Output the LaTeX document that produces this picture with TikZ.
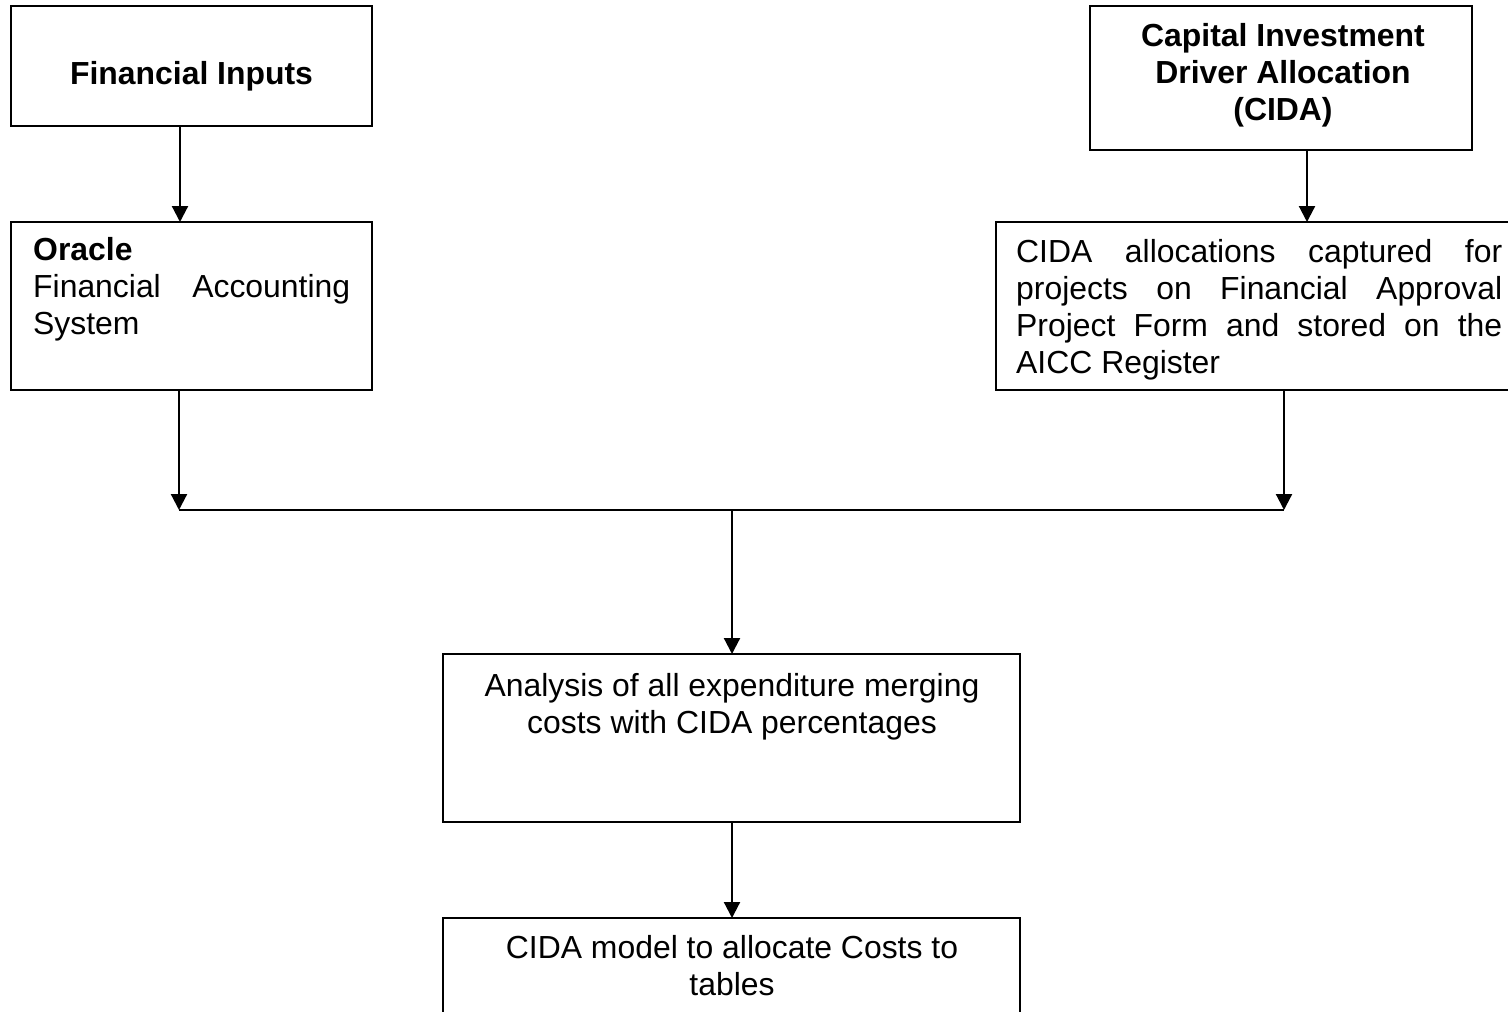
\documentclass[tikz,border=0pt]{standalone}
\usepackage{fontspec}
\setmainfont{Liberation Sans}
\usetikzlibrary{arrows.meta}
\newcommand\myfs{\fontsize{31.9}{37}\selectfont}
\newcommand\cstack[1]{\vtop{\halign{\hfil##\hfil\cr#1\crcr}}}
\begin{document}
\begin{tikzpicture}[x=1pt,y=-1pt,
  box/.style={draw=black, line width=2.2pt, anchor=north west, inner sep=0pt, outer sep=0pt},
  arr/.style={line width=2.2pt, -{Triangle[width=16pt,length=16pt]}},
  conn/.style={line width=2.2pt},
  ltxt/.style={anchor=base west, inner sep=0pt, font=\myfs},
  ctxt/.style={anchor=base, inner sep=0pt, font=\myfs}]
\useasboundingbox (0,0) rectangle (1508,1012);
\clip (0,0) rectangle (1508,1012);
% boxes
\node[box, minimum width=361pt, minimum height=120pt] (fin) at (11,6) {};
\node[box, minimum width=361pt, minimum height=168pt] (ora) at (11,222) {};
\node[box, minimum width=382pt, minimum height=144pt] (cida) at (1090,6) {};
\node[box, minimum width=528pt, minimum height=168pt] (reg) at (996,222) {};
\node[box, minimum width=577pt, minimum height=168pt] (anal) at (443,654) {};
\node[box, minimum width=577pt, minimum height=122pt] (model) at (443,918) {};
% texts
\node[ctxt] (tfin) at (191.5,84) {\textbf{Financial Inputs}};
\node[ltxt] (tora) at (33,260) {\vtop{\hbox{\textbf{Oracle}}\hbox to 317pt{Financial\hfill Accounting}\hbox{System}}};
\node[ctxt] (tcida) at (1283,46) {\bfseries\cstack{Capital Investment\cr Driver Allocation\cr (CIDA)}};
\node[ltxt] (treg) at (1016,262) {\vtop{\hbox to 486pt{CIDA\hfill allocations\hfill captured\hfill for}\hbox to 486pt{projects\hfill on\hfill Financial\hfill Approval}\hbox to 486pt{Project\hfill Form\hfill and\hfill stored\hfill on\hfill the}\hbox{AICC Register}}};
\node[ctxt] (tanal) at (732,696) {\cstack{Analysis of all expenditure merging\cr costs with CIDA percentages}};
\node[ctxt] (tmodel) at (732,958) {\cstack{CIDA model to allocate Costs to\cr tables}};
% connector points
\coordinate (xa) at (180,0);
\coordinate (xb) at (1307,0);
\coordinate (jl) at (179,510);
\coordinate (jr) at (1284,510);
\coordinate (jm) at (732,510);
% connectors
\draw[arr] (fin.south -| xa) -- (ora.north -| xa);
\draw[arr] (cida.south -| xb) -- (reg.north -| xb);
\draw[arr] (ora.south -| jl) -- (jl);
\draw[arr] (reg.south -| jr) -- (jr);
\draw[conn] (jl) -- (jr);
\draw[arr] (jm) -- (anal.north -| jm);
\draw[arr] (anal.south -| jm) -- (model.north -| jm);
\end{tikzpicture}
\end{document}
